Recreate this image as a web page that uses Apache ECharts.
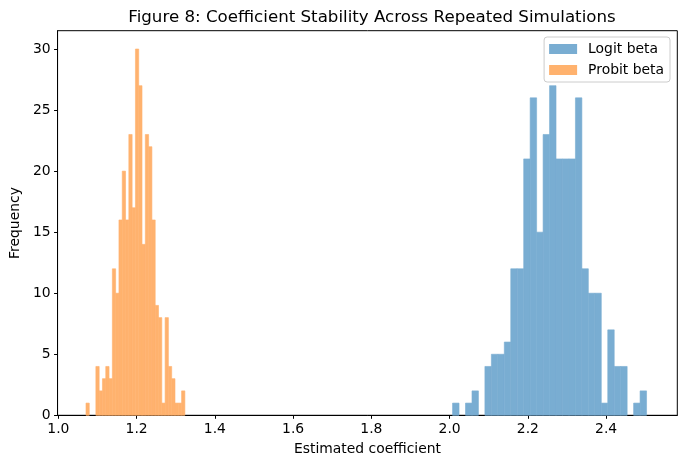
<!DOCTYPE html>
<html>
<head>
<meta charset="utf-8">
<script src="https://cdn.jsdelivr.net/npm/echarts@6/dist/echarts.min.js"></script>
<style>
html,body{margin:0;padding:0;background:#fff;}
#chart{width:687px;height:468px;}
</style>
</head>
<body>
<div id="chart"></div>
<script>
// Histogram parameters (30 bins each)
const logitRange = [2.0076, 2.5034];
const logitCounts = [1,0,1,2,0,4,5,5,6,12,12,21,26,15,23,27,21,21,21,26,12,10,10,1,7,4,4,0,1,2];
const probitRange = [1.0706, 1.3234];
const probitCounts = [1,0,0,4,2,3,4,3,12,10,16,20,16,23,17,30,27,14,23,22,16,9,8,1,8,4,3,1,1,2];
const xTickValues = [1.0, 1.2, 1.4, 1.6, 1.8, 2.0, 2.2, 2.4];
const xTickLabels = ['1.0','1.2','1.4','1.6','1.8','2.0','2.2','2.4'];
const yTickValues = [0, 5, 10, 15, 20, 25, 30];
const yTickLabels = ['0','5','10','15','20','25','30'];
const seriesNames = ['Logit beta', 'Probit beta'];

function binsFrom(range, counts) {
  const w = (range[1] - range[0]) / counts.length;
  return counts.map((c, i) => [range[0] + i * w, range[0] + (i + 1) * w, c]);
}

const FONT = 'DejaVu Sans';
const colors = ['#79add2', '#ffb26e'];

function renderHist(params, api) {
  const c = api.value(2);
  if (!c) return null;
  const a = api.coord([api.value(0), c]);
  const b = api.coord([api.value(1), 0]);
  const col = api.visual('color');
  return {
    type: 'rect',
    shape: { x: a[0], y: a[1], width: b[0] - a[0], height: b[1] - a[1] },
    style: { fill: col, stroke: col, lineWidth: 0.6 }
  };
}

const chart = echarts.init(document.getElementById('chart'), null, { renderer: 'canvas' });
chart.setOption({
  animation: false,
  backgroundColor: '#fff',
  title: {
    text: 'Figure 8: Coefficient Stability Across Repeated Simulations',
    left: 367, textAlign: 'center', top: 4,
    textStyle: { fontFamily: FONT, fontSize: 16.67, fontWeight: 'normal', color: '#000' }
  },
  legend: {
    orient: 'vertical',
    right: 17, top: 37,
    padding: [5, 6, 5, 5],
    itemWidth: 28, itemHeight: 10, itemGap: 7,
    backgroundColor: 'rgba(255,255,255,0.8)',
    borderColor: '#cccccc', borderWidth: 1, borderRadius: 3,
    icon: 'rect',
    data: seriesNames,
    textStyle: { fontFamily: FONT, fontSize: 13.9, color: '#000', lineHeight: 14, padding: [0, 0, 0, 6] }
  },
  grid: {
    left: 57.3, right: 9.7, top: 30.7, bottom: 52.7,
    show: true, borderColor: '#000', borderWidth: 1, backgroundColor: 'transparent'
  },
  xAxis: {
    type: 'value', min: 0.998, max: 2.582,
    name: 'Estimated coefficient', nameLocation: 'middle', nameGap: 27,
    nameTextStyle: { fontFamily: FONT, fontSize: 13.9, color: '#000' },
    splitLine: { show: false },
    axisLine: { show: true, lineStyle: { color: '#000', width: 1 } },
    axisTick: { show: true, inside: false, length: 3.5, lineStyle: { color: '#000', width: 1 }, customValues: xTickValues },
    axisLabel: {
      customValues: xTickValues, margin: 7,
      fontFamily: FONT, fontSize: 13.9, color: '#000',
      formatter: v => { const i = xTickValues.findIndex(t => Math.abs(t - v) < 1e-9); return i >= 0 ? xTickLabels[i] : ''; }
    }
  },
  yAxis: {
    type: 'value', min: 0, max: 31.5,
    name: 'Frequency', nameLocation: 'middle', nameGap: 32, nameRotate: 90,
    nameTextStyle: { fontFamily: FONT, fontSize: 13.9, color: '#000' },
    splitLine: { show: false },
    axisLine: { show: true, lineStyle: { color: '#000', width: 1 } },
    axisTick: { show: true, inside: false, length: 3.5, lineStyle: { color: '#000', width: 1 }, customValues: yTickValues },
    axisLabel: {
      customValues: yTickValues, margin: 7,
      fontFamily: FONT, fontSize: 13.9, color: '#000',
      formatter: v => { const i = yTickValues.indexOf(v); return i >= 0 ? yTickLabels[i] : ''; }
    }
  },
  series: [
    {
      name: seriesNames[0], type: 'custom', renderItem: renderHist,
      itemStyle: { color: colors[0] },
      encode: { x: [0, 1], y: 2 },
      data: binsFrom(logitRange, logitCounts)
    },
    {
      name: seriesNames[1], type: 'custom', renderItem: renderHist,
      itemStyle: { color: colors[1] },
      encode: { x: [0, 1], y: 2 },
      data: binsFrom(probitRange, probitCounts)
    }
  ]
});
</script>
</body>
</html>
